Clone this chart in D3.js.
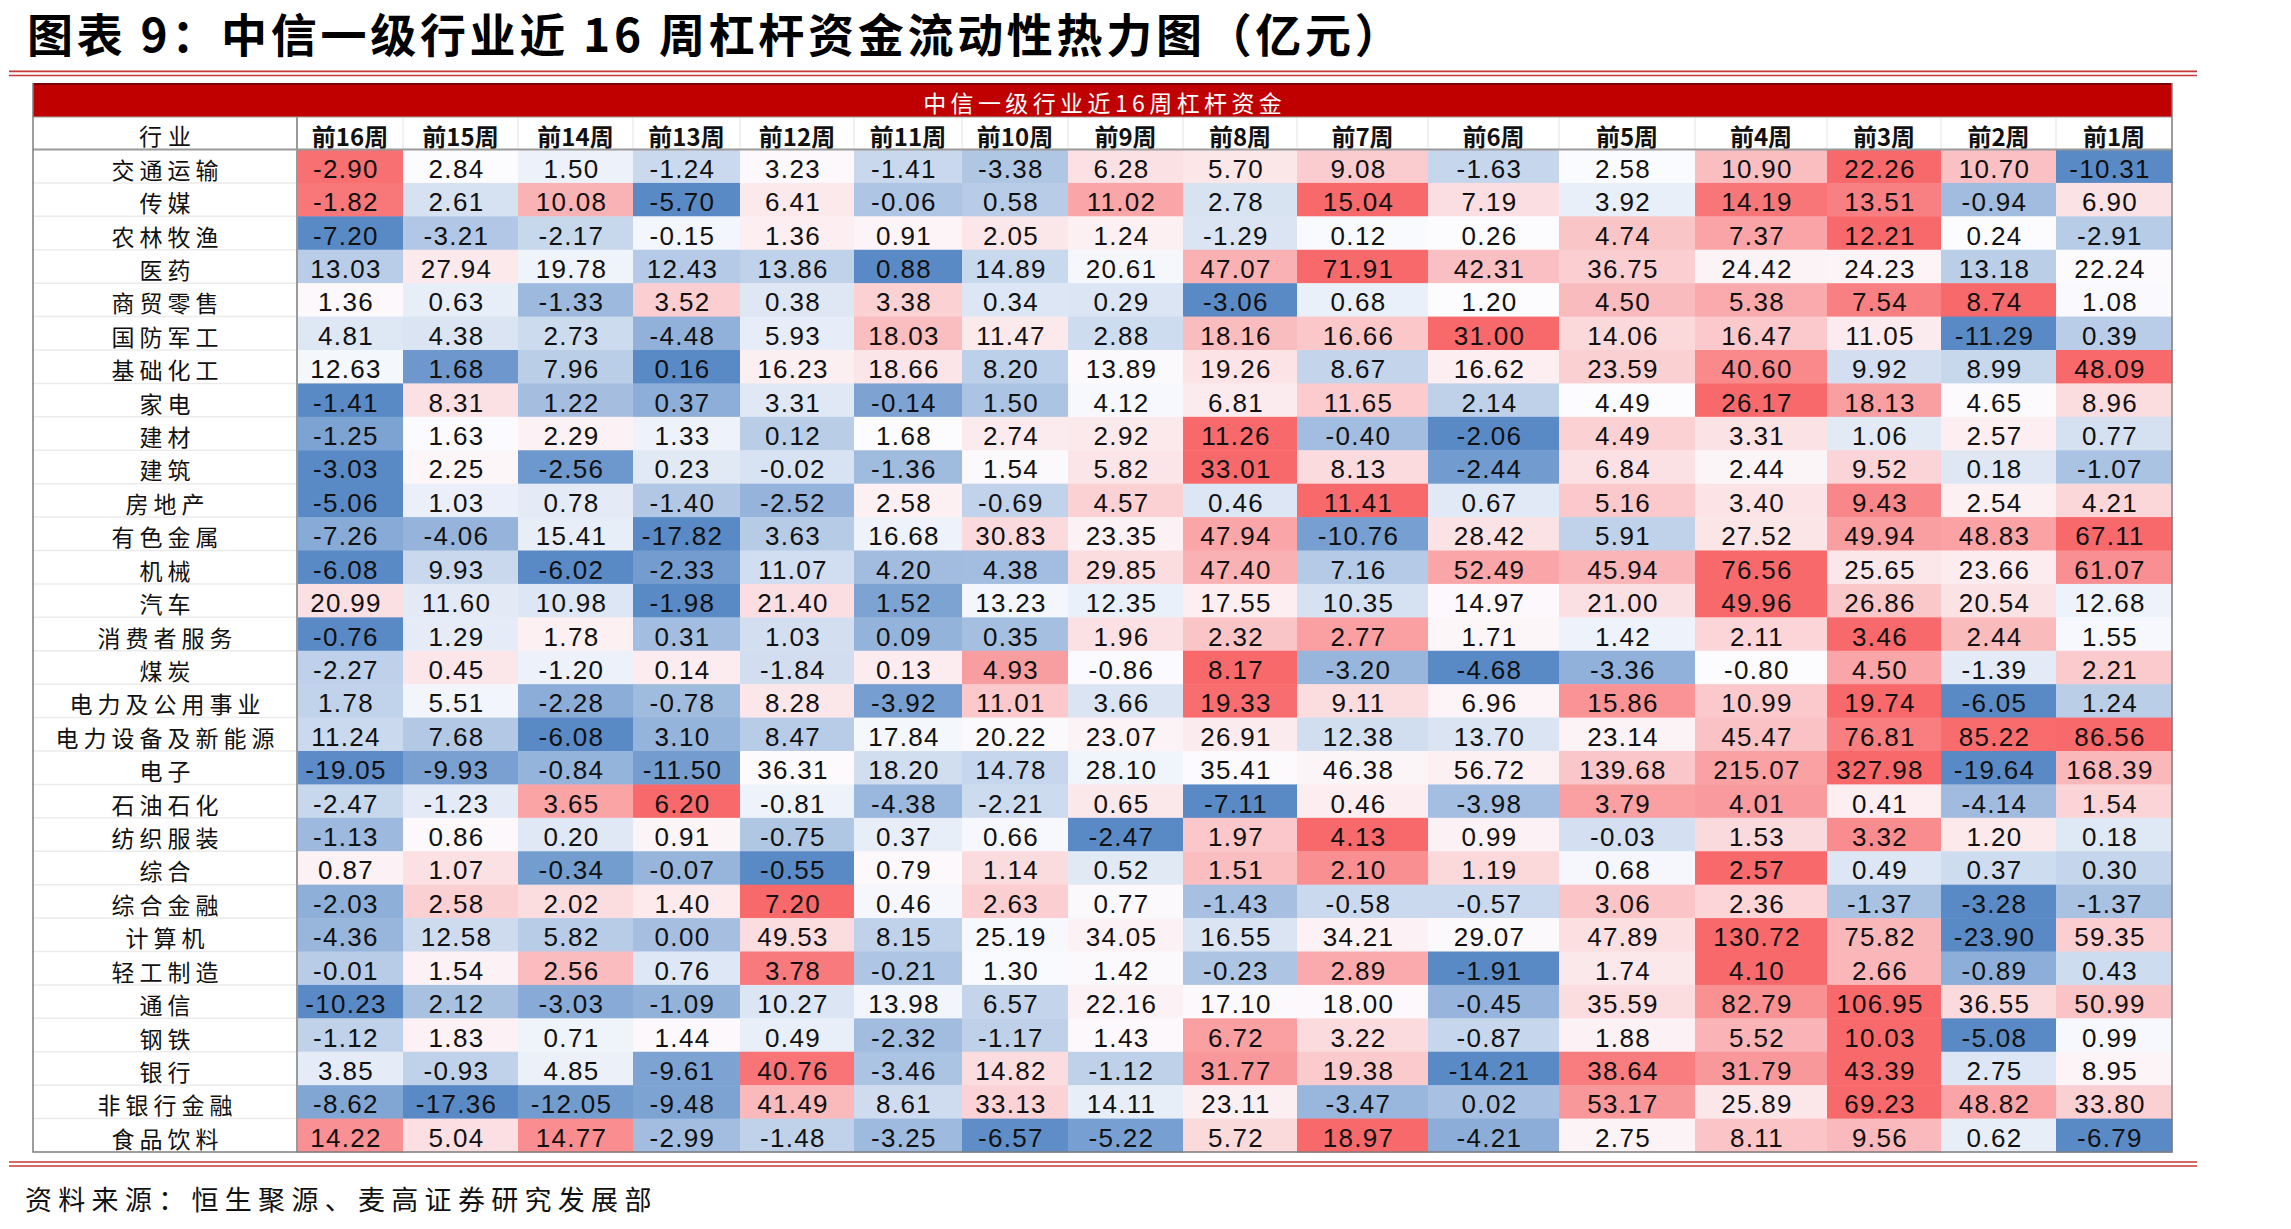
<!DOCTYPE html>
<html>
<head>
<meta charset="utf-8">
<script src="https://cdn.jsdelivr.net/npm/d3@7"></script>
<style>
  html, body { margin: 0; padding: 0; background: #ffffff; }
  svg { display: block; }
</style>
</head>
<body>
<svg id="chart" width="2291" height="1229"></svg>
<script>
// ---------------- DATA ----------------
const titleText = "图表 9：中信一级行业近 16 周杠杆资金流动性热力图（亿元）";
const bannerText = "中信一级行业近16周杠杆资金";
const labelHeader = "行业";
const sourceText = "资料来源：恒生聚源、麦高证券研究发展部";

const weeks = ["前16周", "前15周", "前14周", "前13周", "前12周", "前11周", "前10周", "前9周",
               "前8周", "前7周", "前6周", "前5周", "前4周", "前3周", "前2周", "前1周"];

const industries = ["交通运输", "传媒", "农林牧渔", "医药", "商贸零售", "国防军工", "基础化工", "家电",
  "建材", "建筑", "房地产", "有色金属", "机械", "汽车", "消费者服务", "煤炭", "电力及公用事业",
  "电力设备及新能源", "电子", "石油石化", "纺织服装", "综合", "综合金融", "计算机", "轻工制造",
  "通信", "钢铁", "银行", "非银行金融", "食品饮料"];

const 交通运输 = [-2.90, 2.84, 1.50, -1.24, 3.23, -1.41, -3.38, 6.28, 5.70, 9.08, -1.63, 2.58, 10.90, 22.26, 10.70, -10.31];
const 传媒 = [-1.82, 2.61, 10.08, -5.70, 6.41, -0.06, 0.58, 11.02, 2.78, 15.04, 7.19, 3.92, 14.19, 13.51, -0.94, 6.90];
const 农林牧渔 = [-7.20, -3.21, -2.17, -0.15, 1.36, 0.91, 2.05, 1.24, -1.29, 0.12, 0.26, 4.74, 7.37, 12.21, 0.24, -2.91];
const 医药 = [13.03, 27.94, 19.78, 12.43, 13.86, 0.88, 14.89, 20.61, 47.07, 71.91, 42.31, 36.75, 24.42, 24.23, 13.18, 22.24];
const 商贸零售 = [1.36, 0.63, -1.33, 3.52, 0.38, 3.38, 0.34, 0.29, -3.06, 0.68, 1.20, 4.50, 5.38, 7.54, 8.74, 1.08];
const 国防军工 = [4.81, 4.38, 2.73, -4.48, 5.93, 18.03, 11.47, 2.88, 18.16, 16.66, 31.00, 14.06, 16.47, 11.05, -11.29, 0.39];
const 基础化工 = [12.63, 1.68, 7.96, 0.16, 16.23, 18.66, 8.20, 13.89, 19.26, 8.67, 16.62, 23.59, 40.60, 9.92, 8.99, 48.09];
const 家电 = [-1.41, 8.31, 1.22, 0.37, 3.31, -0.14, 1.50, 4.12, 6.81, 11.65, 2.14, 4.49, 26.17, 18.13, 4.65, 8.96];
const 建材 = [-1.25, 1.63, 2.29, 1.33, 0.12, 1.68, 2.74, 2.92, 11.26, -0.40, -2.06, 4.49, 3.31, 1.06, 2.57, 0.77];
const 建筑 = [-3.03, 2.25, -2.56, 0.23, -0.02, -1.36, 1.54, 5.82, 33.01, 8.13, -2.44, 6.84, 2.44, 9.52, 0.18, -1.07];
const 房地产 = [-5.06, 1.03, 0.78, -1.40, -2.52, 2.58, -0.69, 4.57, 0.46, 11.41, 0.67, 5.16, 3.40, 9.43, 2.54, 4.21];
const 有色金属 = [-7.26, -4.06, 15.41, -17.82, 3.63, 16.68, 30.83, 23.35, 47.94, -10.76, 28.42, 5.91, 27.52, 49.94, 48.83, 67.11];
const 机械 = [-6.08, 9.93, -6.02, -2.33, 11.07, 4.20, 4.38, 29.85, 47.40, 7.16, 52.49, 45.94, 76.56, 25.65, 23.66, 61.07];
const 汽车 = [20.99, 11.60, 10.98, -1.98, 21.40, 1.52, 13.23, 12.35, 17.55, 10.35, 14.97, 21.00, 49.96, 26.86, 20.54, 12.68];
const 消费者服务 = [-0.76, 1.29, 1.78, 0.31, 1.03, 0.09, 0.35, 1.96, 2.32, 2.77, 1.71, 1.42, 2.11, 3.46, 2.44, 1.55];
const 煤炭 = [-2.27, 0.45, -1.20, 0.14, -1.84, 0.13, 4.93, -0.86, 8.17, -3.20, -4.68, -3.36, -0.80, 4.50, -1.39, 2.21];
const 电力及公用事业 = [1.78, 5.51, -2.28, -0.78, 8.28, -3.92, 11.01, 3.66, 19.33, 9.11, 6.96, 15.86, 10.99, 19.74, -6.05, 1.24];
const 电力设备及新能源 = [11.24, 7.68, -6.08, 3.10, 8.47, 17.84, 20.22, 23.07, 26.91, 12.38, 13.70, 23.14, 45.47, 76.81, 85.22, 86.56];
const 电子 = [-19.05, -9.93, -0.84, -11.50, 36.31, 18.20, 14.78, 28.10, 35.41, 46.38, 56.72, 139.68, 215.07, 327.98, -19.64, 168.39];
const 石油石化 = [-2.47, -1.23, 3.65, 6.20, -0.81, -4.38, -2.21, 0.65, -7.11, 0.46, -3.98, 3.79, 4.01, 0.41, -4.14, 1.54];
const 纺织服装 = [-1.13, 0.86, 0.20, 0.91, -0.75, 0.37, 0.66, -2.47, 1.97, 4.13, 0.99, -0.03, 1.53, 3.32, 1.20, 0.18];
const 综合 = [0.87, 1.07, -0.34, -0.07, -0.55, 0.79, 1.14, 0.52, 1.51, 2.10, 1.19, 0.68, 2.57, 0.49, 0.37, 0.30];
const 综合金融 = [-2.03, 2.58, 2.02, 1.40, 7.20, 0.46, 2.63, 0.77, -1.43, -0.58, -0.57, 3.06, 2.36, -1.37, -3.28, -1.37];
const 计算机 = [-4.36, 12.58, 5.82, 0.00, 49.53, 8.15, 25.19, 34.05, 16.55, 34.21, 29.07, 47.89, 130.72, 75.82, -23.90, 59.35];
const 轻工制造 = [-0.01, 1.54, 2.56, 0.76, 3.78, -0.21, 1.30, 1.42, -0.23, 2.89, -1.91, 1.74, 4.10, 2.66, -0.89, 0.43];
const 通信 = [-10.23, 2.12, -3.03, -1.09, 10.27, 13.98, 6.57, 22.16, 17.10, 18.00, -0.45, 35.59, 82.79, 106.95, 36.55, 50.99];
const 钢铁 = [-1.12, 1.83, 0.71, 1.44, 0.49, -2.32, -1.17, 1.43, 6.72, 3.22, -0.87, 1.88, 5.52, 10.03, -5.08, 0.99];
const 银行 = [3.85, -0.93, 4.85, -9.61, 40.76, -3.46, 14.82, -1.12, 31.77, 19.38, -14.21, 38.64, 31.79, 43.39, 2.75, 8.95];
const 非银行金融 = [-8.62, -17.36, -12.05, -9.48, 41.49, 8.61, 33.13, 14.11, 23.11, -3.47, 0.02, 53.17, 25.89, 69.23, 48.82, 33.80];
const 食品饮料 = [14.22, 5.04, 14.77, -2.99, -1.48, -3.25, -6.57, -5.22, 5.72, 18.97, -4.21, 2.75, 8.11, 9.56, 0.62, -6.79];

const rowValues = [交通运输, 传媒, 农林牧渔, 医药, 商贸零售, 国防军工, 基础化工, 家电, 建材, 建筑, 房地产,
  有色金属, 机械, 汽车, 消费者服务, 煤炭, 电力及公用事业, 电力设备及新能源, 电子, 石油石化, 纺织服装, 综合,
  综合金融, 计算机, 轻工制造, 通信, 钢铁, 银行, 非银行金融, 食品饮料];

// cells whose shading in the picture does not follow the row colour rule (level: -1 blue .. +1 red)
const shadeOverrides = [
  { industry: "交通运输", week: "前16周", level: 0.95 },
  { industry: "传媒", week: "前16周", level: 0.90 }
];

// ---------------- LAYOUT ----------------
const tableLeft = 33, tableRight = 2172, labelRight = 297;
const colEdges = [297, 403, 518, 633, 740, 854, 962, 1068, 1183, 1297, 1428, 1559, 1695, 1827, 1941, 2056, 2172];
const bannerTop = 83, headerTop = 117, bodyTop = 149.5, bodyBottom = 1152;
const LOW = "#5A8AC6", MID = "#FCFCFF", HIGH = "#F8696B";
const cjk = "'Noto Sans CJK SC', 'Noto Sans', sans-serif";
const num = "'Liberation Sans', Arial, 'DejaVu Sans', sans-serif";
const lineRed = "#C23B36";

const svg = d3.select("#chart");
svg.append("rect").attr("width", 2291).attr("height", 1229).attr("fill", "#ffffff");

const x = d3.scaleLinear().domain(d3.range(colEdges.length)).range(colEdges);
const y = d3.scaleBand().domain(industries).range([bodyTop, bodyBottom]).padding(0);

// per-row three-colour scale: min -> blue, median -> white, max -> red
const rowColor = rowValues.map(arr => {
  const sorted = arr.slice().sort(d3.ascending);
  return d3.scaleLinear()
    .domain([sorted[0], d3.quantileSorted(sorted, 0.5), sorted[sorted.length - 1]])
    .range([LOW, MID, HIGH])
    .interpolate(d3.interpolateRgb)
    .clamp(true);
});
const levelColor = d3.scaleLinear().domain([-1, 0, 1]).range([LOW, MID, HIGH]).interpolate(d3.interpolateRgb);

const cells = industries.flatMap((ind, r) => weeks.map((wk, c) => {
  const ov = shadeOverrides.find(o => o.industry === ind && o.week === wk);
  return { ind, wk, r, c, v: rowValues[r][c], fill: ov ? levelColor(ov.level) : rowColor[r](rowValues[r][c]) };
}));

// ---------------- TITLE ----------------
svg.append("text")
  .attr("x", 27).attr("y", 32)
  .attr("dominant-baseline", "central")
  .style("font-family", cjk).style("font-size", "46px").style("font-weight", 700)
  .style("letter-spacing", "3.7px").attr("fill", "#000")
  .text(titleText);

[71.3, 75.5].forEach(yy => svg.append("line")
  .attr("x1", 9).attr("x2", 2197).attr("y1", yy).attr("y2", yy)
  .attr("stroke", lineRed).attr("stroke-width", 1.7));

// ---------------- BANNER ----------------
svg.append("rect").attr("x", tableLeft).attr("y", bannerTop)
  .attr("width", tableRight - tableLeft).attr("height", headerTop - bannerTop).attr("fill", "#C00000");
svg.append("line").attr("x1", tableLeft).attr("x2", tableRight).attr("y1", bannerTop + 1).attr("y2", bannerTop + 1)
  .attr("stroke", "#7A0000").attr("stroke-width", 2);
svg.append("text")
  .attr("x", (tableLeft + tableRight) / 2 + 2.2).attr("y", (bannerTop + headerTop) / 2 + 2)
  .attr("text-anchor", "middle").attr("dominant-baseline", "central")
  .style("font-family", cjk).style("font-size", "23px").style("letter-spacing", "4.4px")
  .attr("fill", "#ffffff").text(bannerText);

// ---------------- HEADER ROW ----------------
const header = svg.append("g");
header.append("rect").attr("x", tableLeft).attr("y", headerTop)
  .attr("width", tableRight - tableLeft).attr("height", bodyTop - headerTop).attr("fill", "#ffffff");
header.selectAll("line.hsep").data(d3.range(1, weeks.length)).join("line")
  .attr("class", "hsep")
  .attr("x1", i => x(i)).attr("x2", i => x(i)).attr("y1", headerTop).attr("y2", bodyTop)
  .attr("stroke", "#ececec").attr("stroke-width", 1.5);
header.append("text")
  .attr("x", (tableLeft + labelRight) / 2 + 3).attr("y", (headerTop + bodyTop) / 2 + 2)
  .attr("text-anchor", "middle").attr("dominant-baseline", "central")
  .style("font-family", cjk).style("font-size", "23px").style("letter-spacing", "6px")
  .attr("fill", "#111").text(labelHeader);
header.selectAll("text.wk").data(weeks).join("text")
  .attr("class", "wk")
  .attr("x", (d, i) => (x(i) + x(i + 1)) / 2).attr("y", (headerTop + bodyTop) / 2 + 2)
  .attr("text-anchor", "middle").attr("dominant-baseline", "central")
  .style("font-family", cjk).style("font-size", "24px").style("font-weight", 700)
  .attr("fill", "#111").text(d => d);

// ---------------- BODY ----------------
const body = svg.append("g");
body.append("rect").attr("x", tableLeft).attr("y", bodyTop)
  .attr("width", labelRight - tableLeft).attr("height", bodyBottom - bodyTop).attr("fill", "#ffffff");

body.selectAll("rect.cell").data(cells).join("rect")
  .attr("class", "cell")
  .attr("x", d => x(d.c)).attr("y", d => y(d.ind))
  .attr("width", d => x(d.c + 1) - x(d.c) + 0.5).attr("height", y.bandwidth() + 0.5)
  .attr("fill", d => d.fill);

body.selectAll("line.rsep").data(industries.slice(1)).join("line")
  .attr("class", "rsep")
  .attr("x1", tableLeft).attr("x2", labelRight).attr("y1", d => y(d)).attr("y2", d => y(d))
  .attr("stroke", "#ebebeb").attr("stroke-width", 1.5);

body.selectAll("text.lbl").data(industries).join("text")
  .attr("class", "lbl")
  .attr("x", (tableLeft + labelRight) / 2 + 2.5).attr("y", d => y(d) + y.bandwidth() / 2 + 2.5)
  .attr("text-anchor", "middle").attr("dominant-baseline", "central")
  .style("font-family", cjk).style("font-size", "23px").style("letter-spacing", "5px")
  .attr("fill", "#111").text(d => d);

body.selectAll("text.val").data(cells).join("text")
  .attr("class", "val")
  .attr("x", d => (x(d.c) + x(d.c + 1)) / 2 - 4).attr("y", d => y(d.ind) + y.bandwidth() / 2 + 2.5)
  .attr("text-anchor", "middle").attr("dominant-baseline", "central")
  .style("font-family", num).style("font-size", "26px").style("letter-spacing", "1.3px")
  .attr("fill", "#111").text(d => d.v.toFixed(2));

// ---------------- BORDERS ----------------
const borders = svg.append("g").attr("fill", "none");
borders.append("line").attr("x1", tableLeft).attr("x2", tableRight).attr("y1", bodyTop).attr("y2", bodyTop)
  .attr("stroke", "#9a9a9a").attr("stroke-width", 2);
borders.append("line").attr("x1", labelRight).attr("x2", labelRight).attr("y1", headerTop).attr("y2", bodyBottom)
  .attr("stroke", "#9a9a9a").attr("stroke-width", 2);
borders.append("line").attr("x1", tableLeft).attr("x2", tableRight).attr("y1", headerTop).attr("y2", headerTop)
  .attr("stroke", "#a0a0a0").attr("stroke-width", 1);
borders.append("path")
  .attr("d", `M${tableLeft},${bannerTop} V${bodyBottom} H${tableRight} V${bannerTop}`)
  .attr("stroke", "#7d7d7d").attr("stroke-width", 1.5);

// ---------------- FOOTER ----------------
[1162, 1166].forEach(yy => svg.append("line")
  .attr("x1", 9).attr("x2", 2197).attr("y1", yy).attr("y2", yy)
  .attr("stroke", lineRed).attr("stroke-width", 1.7));

svg.append("text")
  .attr("x", 25).attr("y", 1198)
  .attr("dominant-baseline", "central")
  .style("font-family", cjk).style("font-size", "27px").style("letter-spacing", "6.3px")
  .attr("fill", "#111").text(sourceText);
</script>
</body>
</html>
